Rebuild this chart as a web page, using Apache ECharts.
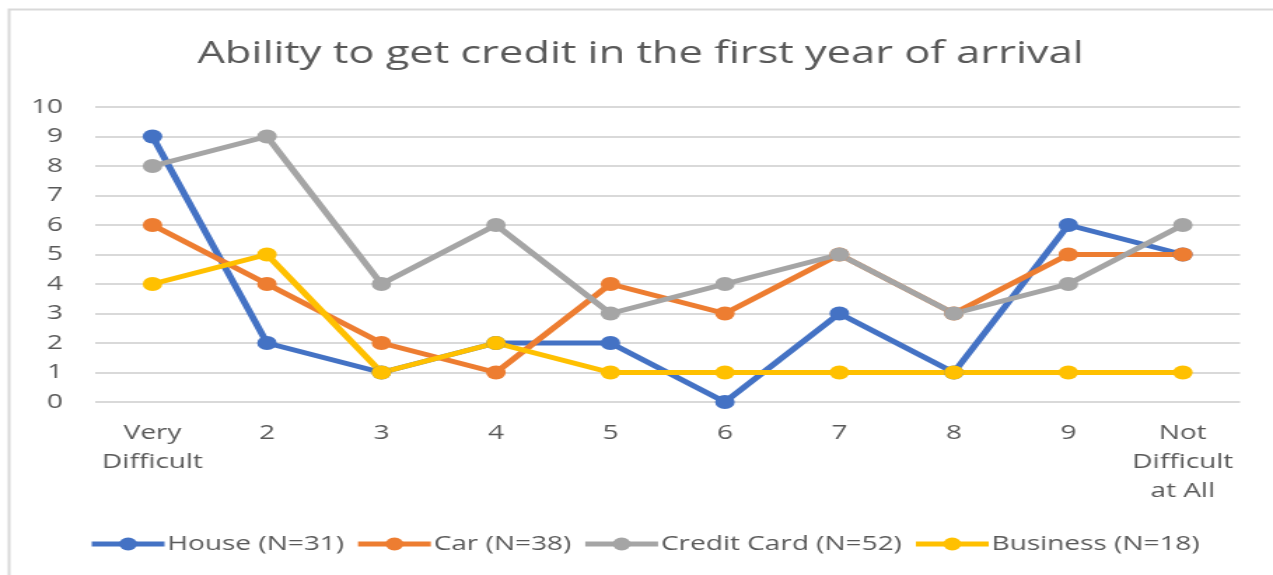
<!DOCTYPE html>
<html lang="en">
<head>
  <meta charset="UTF-8">
  <title>Ability to get credit</title>
  <script src="https://cdn.jsdelivr.net/npm/echarts@6/dist/echarts.min.js"></script>
  <style>
    html, body { margin: 0; padding: 0; background: #fff; overflow: hidden; }
    /* the source picture is stretched sideways, so draw narrow and stretch the same way */
    #chart {
      width: 909px;
      height: 575px;
      transform: scaleX(1.4004);
      transform-origin: left top;
    }
  </style>
</head>
<body>
  <div id="chart"></div>
<script>
  const categories = ['Very\nDifficult', '2', '3', '4', '5', '6', '7', '8', '9', 'Not\nDifficult\nat All'];
  const house = [9, 2, 1, 2, 2, 0, 3, 1, 6, 5];
  const car = [6, 4, 2, 1, 4, 3, 5, 3, 5, 5];
  const creditCard = [8, 9, 4, 6, 3, 4, 5, 3, 4, 6];
  const business = [4, 5, 1, 2, 1, 1, 1, 1, 1, 1];

  const font = '"Open Sans", "Liberation Sans", sans-serif';
  const chart = echarts.init(document.getElementById('chart'));

  function line(name, data, color) {
    return {
      name: name,
      type: 'line',
      data: data,
      symbol: 'circle',
      symbolSize: 14,
      lineStyle: { width: 5, color: color },
      itemStyle: { color: color },
      emphasis: { disabled: true }
    };
  }

  chart.setOption({
    animation: false,
    color: ['#4472C4', '#ED7D31', '#A5A5A5', '#FFC000'],
    graphic: [{
      type: 'rect',
      shape: { x: 6.5, y: 9.5, width: 1000, height: 700 },
      style: { fill: 'none', stroke: '#d9d9d9', lineWidth: 2 },
      silent: true
    }],
    title: {
      text: 'Ability to get credit in the first year of arrival',
      left: 136,
      top: 34,
      textStyle: { fontFamily: font, fontSize: 31, fontWeight: 'normal', color: '#595959' }
    },
    legend: {
      bottom: 16,
      left: 58,
      itemWidth: 52,
      itemHeight: 16,
      itemGap: 7.5,
      lineStyle: { width: 5 },
      textStyle: { fontFamily: font, fontSize: 20, color: '#595959', padding: [0, 0, 0, -3] },
      data: ['House (N=31)', 'Car (N=38)', 'Credit Card (N=52)', 'Business (N=18)']
    },
    grid: {
      left: 68,
      right: 23.5,
      top: 107,
      bottom: 173,
      containLabel: false
    },
    xAxis: {
      type: 'category',
      data: categories,
      boundaryGap: true,
      axisLine: { show: false },
      axisTick: { show: false },
      axisLabel: {
        margin: 17,
        interval: 0,
        fontFamily: font,
        fontSize: 20,
        lineHeight: 29,
        color: '#595959'
      }
    },
    yAxis: {
      type: 'value',
      min: 0,
      max: 10,
      interval: 1,
      axisLine: { show: false },
      axisTick: { show: false },
      axisLabel: { margin: 23, fontFamily: font, fontSize: 20, color: '#595959' },
      splitLine: { lineStyle: { color: '#d9d9d9', width: 2 } }
    },
    series: [
      line('House (N=31)', house, '#4472C4'),
      line('Car (N=38)', car, '#ED7D31'),
      line('Credit Card (N=52)', creditCard, '#A5A5A5'),
      line('Business (N=18)', business, '#FFC000')
    ]
  });
</script>
</body>
</html>
